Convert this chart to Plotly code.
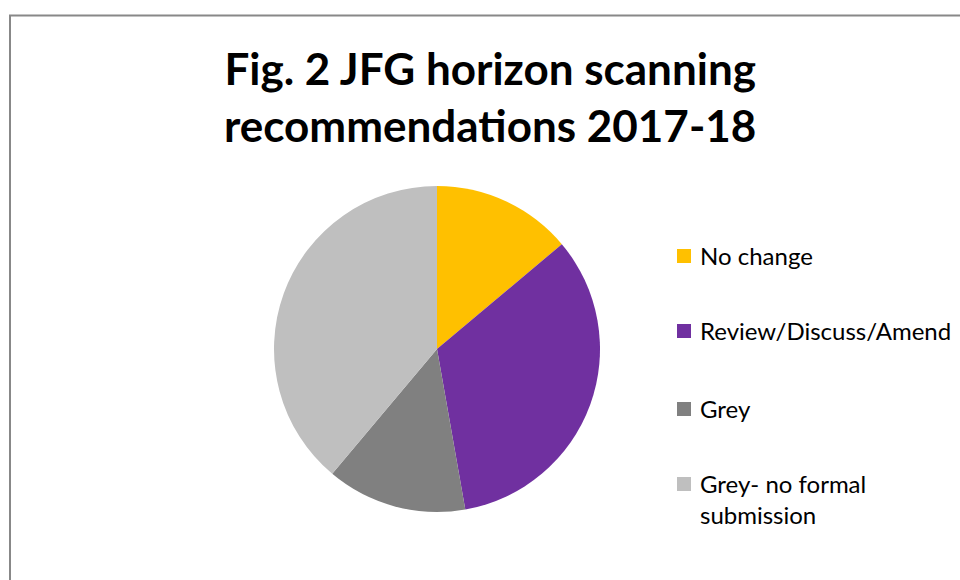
import plotly.graph_objects as go

title_text = "Fig. 2 JFG horizon scanning<br>recommendations 2017-18"
categories = ["No change", "Review/Discuss/Amend", "Grey", "Grey- no formal<br>submission"]
values = [5, 12, 5, 14]
colors = ["#FFC000", "#7030A0", "#808080", "#BFBFBF"]

W, H = 960, 580
cx, cy, r = 437, 349, 163

fig = go.Figure(go.Pie(
    labels=categories,
    values=values,
    marker=dict(colors=colors, line=dict(width=0)),
    sort=False,
    direction="clockwise",
    rotation=0,
    textinfo="none",
    hoverinfo="label+value+percent",
    showlegend=False,
    domain=dict(x=[(cx - r) / W, (cx + r) / W], y=[1 - (cy + r) / H, 1 - (cy - r) / H]),
))

shapes = [dict(type="rect", xref="paper", yref="paper",
               x0=10 / W, x1=1.05, y0=-0.05, y1=1 - 15.5 / H,
               line=dict(color="#888888", width=2), fillcolor="rgba(0,0,0,0)")]
annotations = [dict(text=title_text, xref="paper", yref="paper", x=490 / W, y=1 - 40 / H,
                    xanchor="center", yanchor="top", showarrow=False, align="center",
                    font=dict(family="Lato", size=44, color="#000000", weight="bold"))]

legend_y = [256, 331, 409, 484]
for lab, col, ly in zip(categories, colors, legend_y):
    shapes.append(dict(type="rect", xref="paper", yref="paper",
                       x0=677 / W, x1=691 / W, y0=1 - (ly + 7) / H, y1=1 - (ly - 7) / H,
                       line=dict(width=0), fillcolor=col))
    annotations.append(dict(text=lab, xref="paper", yref="paper", x=698 / W, y=1 - (ly - 17) / H,
                            xanchor="left", yanchor="top", showarrow=False, align="left",
                            font=dict(family="Lato", size=24, color="#000000")))

fig.update_layout(
    width=W, height=H,
    margin=dict(l=0, r=0, t=0, b=0),
    paper_bgcolor="white",
    plot_bgcolor="white",
    shapes=shapes,
    annotations=annotations,
)

fig.write_html("out.html", config={"displayModeBar": False},
               post_script="document.body.style.margin='0';")
